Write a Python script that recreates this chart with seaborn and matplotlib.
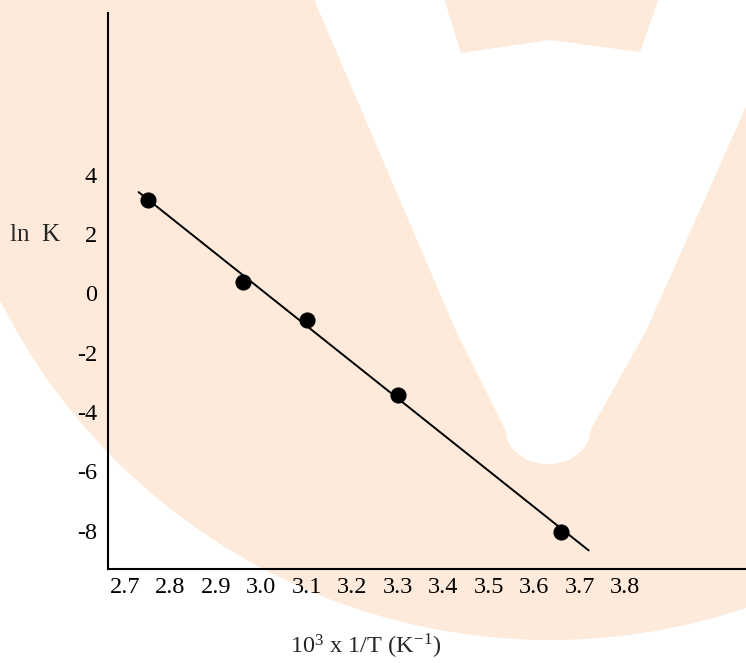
import numpy as np
import pandas as pd
import matplotlib
matplotlib.use("Agg")
import matplotlib.pyplot as plt
from matplotlib.patches import Circle, Polygon
import seaborn as sns

# datos
inv_T = [2.75, 2.96, 3.10, 3.30, 3.66]      # 10^3 x 1/T (K^-1)
ln_K = [3.15, 0.40, -0.89, -3.42, -8.04]
rango_recta = [2.73, 3.72]
x_ticks = [2.7, 2.8, 2.9, 3.0, 3.1, 3.2, 3.3, 3.4, 3.5, 3.6, 3.7, 3.8]
x_etiquetas = ["2.7", "2.8", "2.9", "3.0", "3.1", "3.2", "3.3", "3.4", "3.5", "3.6", "3.7", "3.8"]
y_ticks = [-8, -6, -4, -2, 0, 2, 4]
y_etiquetas = ["-8", "-6", "-4", "-2", "0", "2", "4"]

sns.set_style("white")
plt.rcParams['font.family'] = ['Liberation Serif', 'DejaVu Serif']
plt.rcParams['mathtext.fontset'] = 'stix'

df = pd.DataFrame({'x': inv_T, 'y': ln_K})
pendiente, intercepto = np.polyfit(df['x'], df['y'], 1)
recta = pd.DataFrame({'x': rango_recta})
recta['y'] = pendiente * recta['x'] + intercepto

fig = plt.figure(figsize=(7.46, 6.63), dpi=100)

# marca de agua de fondo (coordenadas en pixeles)
fondo = fig.add_axes([0, 0, 1, 1], zorder=0)
fondo.set_xlim(0, 746)
fondo.set_ylim(663, 0)
fondo.axis('off')
melocoton = '#fdeada'
fondo.add_patch(Circle((550, 25), 615, color=melocoton, lw=0))
ang = np.linspace(np.pi, 0, 30)
arco = np.column_stack([548 + 42 * np.cos(ang), 431 + 33 * np.sin(ang)])
v_blanca = np.vstack([[[310, -10], [456, 331], [506, 431]], arco,
                      [[590, 431], [646, 331], [798, -10]]])
fondo.add_patch(Polygon(v_blanca, closed=True, color='white', lw=0))
fondo.add_patch(Polygon([[443, -5], [660, -5], [640, 52], [550, 40], [461, 53]],
                        closed=True, color=melocoton, lw=0))

ax = fig.add_axes([108 / 746, 1 - 569 / 663, 638 / 746, 556 / 663], zorder=1)
ax.set_facecolor('none')

sns.lineplot(data=recta, x='x', y='y', color='black', linewidth=1.4, ax=ax)
sns.scatterplot(data=df, x='x', y='y', color='black', s=135, linewidth=0, ax=ax, zorder=3)

ax.set_xlim(2.6626, 4.066)
ax.set_ylim(-9.29, 9.45)
ax.set_xticks(x_ticks)
ax.set_xticklabels(x_etiquetas)
ax.set_yticks(y_ticks)
ax.set_yticklabels(y_etiquetas)
ax.tick_params(axis='both', length=0, labelsize=17.5, colors='black')
ax.tick_params(axis='x', pad=6)
ax.tick_params(axis='y', pad=8)

for lado in ['top', 'right']:
    ax.spines[lado].set_visible(False)
for lado in ['left', 'bottom']:
    ax.spines[lado].set_linewidth(1.5)
    ax.spines[lado].set_color('black')

ax.set_ylabel("ln  K", rotation=0, fontsize=18, ha='left', va='center')
ax.yaxis.set_label_coords(-0.1536, 0.6007)
ax.set_xlabel(r"$\mathregular{10^3}$ x 1/T (K$^{\mathregular{-1}}$)", fontsize=17.5, va='center')
ax.xaxis.set_label_coords(0.4044, -0.139)

fig.savefig("out.png", dpi=100)
